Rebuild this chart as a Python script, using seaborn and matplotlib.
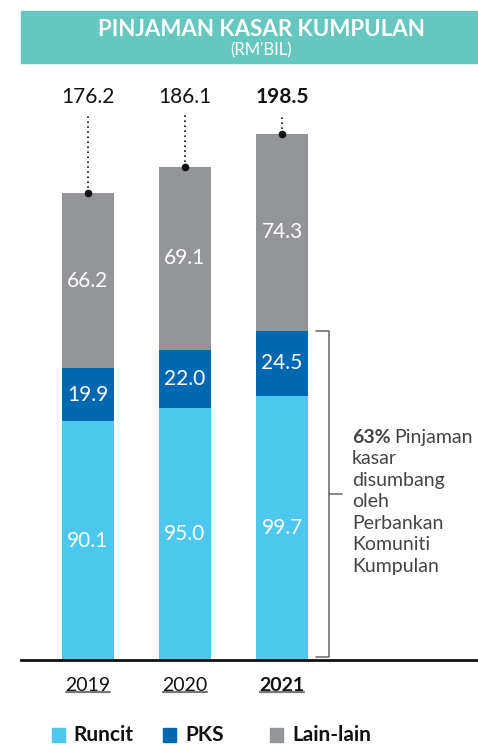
import pandas as pd
import matplotlib.pyplot as plt
import matplotlib.transforms as mtransforms
from matplotlib.patches import Rectangle
import seaborn as sns

years = ['2019', '2020', '2021']
runcit = [90.1, 95.0, 99.7]
pks = [19.9, 22.0, 24.5]
lain = [66.2, 69.1, 74.3]
totals = [176.2, 186.1, 198.5]
legend_labels = ['Runcit', 'PKS', 'Lain-lain']
note_lines = ['kasar', 'disumbang', 'oleh', 'Perbankan', 'Komuniti', 'Kumpulan']

c_runcit = '#4cc8ee'
c_pks = '#0067b1'
c_lain = '#939598'
c_note = '#444444'

df = pd.DataFrame({'year': years, 'runcit': runcit, 'pks': pks, 'lain': lain})
df['mid'] = df['runcit'] + df['pks']
df['top'] = df['mid'] + df['lain']

sns.set_style('white')
plt.rcParams['font.family'] = ['Lato', 'DejaVu Sans']

W, H = 478, 745
fig = plt.figure(figsize=(W / 100, H / 100), dpi=100)
ax = fig.add_axes([21 / W, 85 / H, 457 / W, 590 / H])

# stacked bars: draw cumulative totals, tallest first
w = 0.536
sns.barplot(data=df, x='year', y='top', color=c_lain, width=w, saturation=1, linewidth=0, ax=ax)
sns.barplot(data=df, x='year', y='mid', color=c_pks, width=w, saturation=1, linewidth=0, ax=ax)
sns.barplot(data=df, x='year', y='runcit', color=c_runcit, width=w, saturation=1, linewidth=0, ax=ax)

ax.set_xlim(-0.69, 4.02)
ax.set_ylim(0, 222.6)
ax.set_xlabel('')
ax.set_ylabel('')
ax.set_yticks([])
sns.despine(ax=ax, left=True)
ax.spines['bottom'].set_color('#111111')
ax.spines['bottom'].set_linewidth(2)
ax.tick_params(axis='x', length=0, pad=12, labelsize=14, labelcolor='#111111')
for lab in ax.get_xticklabels():
    if lab.get_text() == '2021':
        lab.set_fontweight('bold')

# underline the year labels
trans = mtransforms.blended_transform_factory(ax.transData, ax.transAxes)
for i in range(len(years)):
    ax.plot([i - 0.225, i + 0.225], [-0.054, -0.054], color='#777777', lw=1.6,
            transform=trans, clip_on=False)

# segment values
for i in range(len(years)):
    for yv, v in [(runcit[i] / 2, runcit[i]),
                  (runcit[i] + pks[i] / 2, pks[i]),
                  (df['mid'][i] + lain[i] / 2, lain[i])]:
        ax.text(i, yv, f'{v:.1f}', color='white', fontsize=15, ha='center', va='center')

# totals with dotted leader
for i in range(len(years)):
    ax.plot([i, i], [df['top'][i], 206], color='#111111', lw=1.2, ls=(0, (1, 2)))
    ax.plot(i, df['top'][i], 'o', color='#111111', ms=4.5)
    ax.text(i, 212.5, f'{totals[i]:.1f}', fontsize=15, ha='center', va='center',
            fontweight='bold' if i == 2 else 'normal', color='#111111')

# bracket for 2021 Runcit + PKS
b_top = runcit[2] + pks[2]
bx0, bx1, bx2 = 2.35, 2.48, 2.62
ax.plot([bx0, bx1, bx1, bx0], [b_top, b_top, 1.2, 1.2], color='#666666', lw=1.1)
ax.plot([bx1, bx2], [(b_top + 1.2) / 2, (b_top + 1.2) / 2], color='#666666', lw=1.1)

# note text, one line at a time
y0, dy = 84.0, 8.1
ax.text(2.72, y0, '63%', fontsize=14, fontweight='bold', color=c_note, ha='left', va='center')
ax.text(3.155, y0, 'Pinjaman', fontsize=14, color=c_note, ha='left', va='center')
for k, line in enumerate(note_lines, start=1):
    ax.text(2.72, y0 - k * dy, line, fontsize=14, color=c_note, ha='left', va='center')

# title banner
fig.patches.append(Rectangle((21 / W, 682 / H), 457 / W, 52 / H,
                             transform=fig.transFigure, color='#66c6c0', zorder=0))
fig.text(261 / W, 1 - 29 / H, 'PINJAMAN KASAR KUMPULAN', color='white', fontsize=16,
         fontweight='bold', ha='center', va='center')
fig.text(261 / W, 1 - 50 / H, "(RM'BIL)", color='white', fontsize=12, ha='center',
         va='center')

# legend, placed by hand
sq_x = [52, 163, 270]
tx_x = [73, 185, 292]
for col, sx, tx, lab in zip([c_runcit, c_pks, c_lain], sq_x, tx_x, legend_labels):
    fig.patches.append(Rectangle((sx / W, 1 - 742 / H), 13 / W, 14 / H,
                                 transform=fig.transFigure, color=col))
    fig.text(tx / W, 1 - 735 / H, lab, fontsize=15, fontweight='bold', color='#111111',
             ha='left', va='center')

fig.savefig('out.png', dpi=100)
